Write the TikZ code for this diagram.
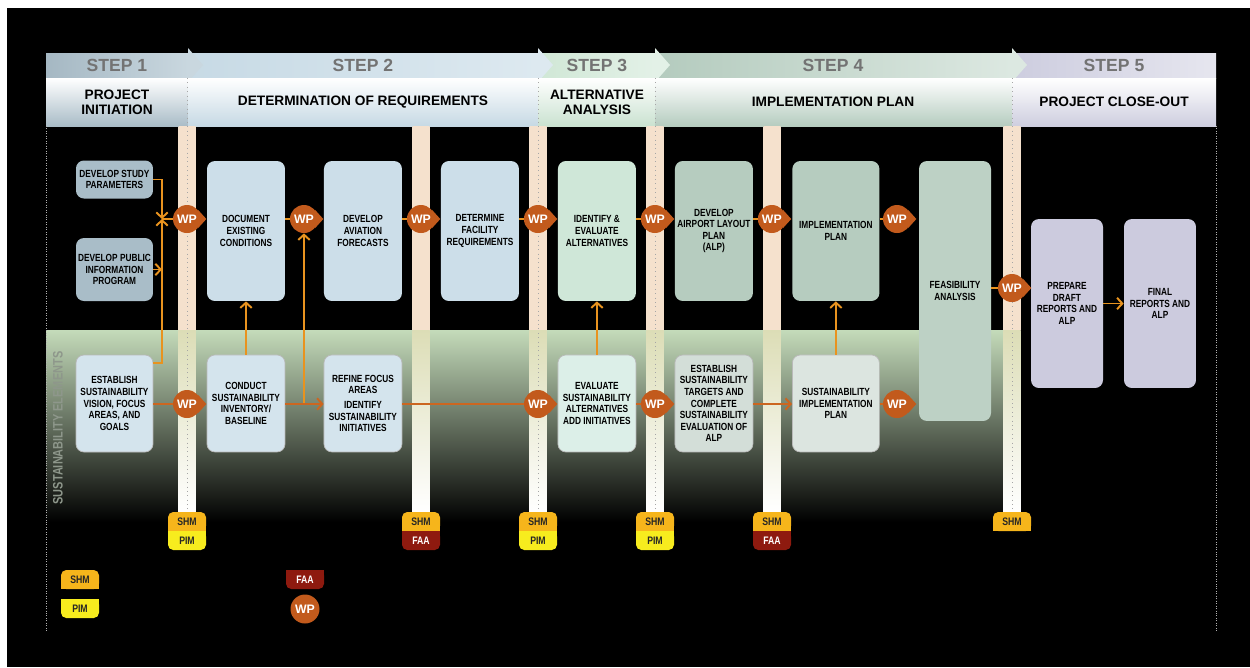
\documentclass[tikz,border=0pt]{standalone}
\usepackage{fontspec}
\setmainfont{Liberation Sans}
\newfontfamily\narrowfont{Liberation Sans}[FakeStretch=0.8]
\usetikzlibrary{positioning, arrows.meta}

\definecolor{boxgray}{HTML}{A9BDC8}
\definecolor{boxblue}{HTML}{CCDEE9}
\definecolor{boxmint}{HTML}{CFE7D8}
\definecolor{boxsage}{HTML}{B6CCBF}
\definecolor{boxlav}{HTML}{CCCBDE}
\definecolor{lowblue}{HTML}{D4E4ED}
\definecolor{lowmint}{HTML}{DCEFE8}
\definecolor{lowsage}{HTML}{D3DED8}
\definecolor{wpc}{HTML}{C25A1C}
\definecolor{orng}{HTML}{E8931F}
\definecolor{rust}{HTML}{CC6620}
\definecolor{shmc}{HTML}{F6B51B}
\definecolor{pimc}{HTML}{F7EC1E}
\definecolor{faac}{HTML}{8E1A0F}
\definecolor{pilc}{HTML}{F5E1CD}
\definecolor{pilm}{HTML}{FFFFFF}
\definecolor{piltint}{HTML}{DCDDB6}
\definecolor{bandtop}{HTML}{C4DBBA}
\definecolor{bandmid}{HTML}{7A8B73}
\definecolor{steptxt}{HTML}{737373}
\definecolor{sidetxt}{HTML}{8E978B}
% step colours: a = left of the step row, b = right of it, t = foot of the title row
\definecolor{sa1}{HTML}{A5B8C3}\definecolor{sb1}{HTML}{C9D7DF}\definecolor{st1}{HTML}{A9BCC7}
\definecolor{sa2}{HTML}{C7DAE5}\definecolor{sb2}{HTML}{DDE9F0}\definecolor{st2}{HTML}{C6D9E4}
\definecolor{sa3}{HTML}{D0E7D6}\definecolor{sb3}{HTML}{E3F1E7}\definecolor{st3}{HTML}{CAE2D0}
\definecolor{sa4}{HTML}{B4CBBE}\definecolor{sb4}{HTML}{DCE8E1}\definecolor{st4}{HTML}{B5CCBF}
\definecolor{sa5}{HTML}{CDCDDF}\definecolor{sb5}{HTML}{E6E6EF}\definecolor{st5}{HTML}{CECEDF}

\tikzset{
>={Straight Barb[length=3pt,width=6.5pt]}, % open arrow heads
node distance=2.34cm, % centre to centre spacing of the task boxes
task/.style={rounded corners=4.5pt, align=center, inner sep=1pt, minimum width=1.56cm, font=\narrowfont\bfseries\fontsize{5.9}{6.6}\selectfont}, % every task box
tall/.style={minimum height=2.8cm}, % top row boxes
low/.style={minimum height=1.94cm, draw=gray!55, line width=0.4pt}, % sustainability boxes
wp/.style={circle, fill=wpc, text=white, inner sep=0pt, minimum size=0.56cm, font=\bfseries\fontsize{7}{7}\selectfont}, % work paper
link/.style={orng, line width=1.1pt}, % main flow
slink/.style={rust, line width=1.1pt}, % sustainability flow
badge/.style={inner sep=0pt, text=black!85, font=\narrowfont\bfseries\fontsize{6.2}{6.2}\selectfont}, % SHM, PIM, FAA
steplbl/.style={text=steptxt, font=\bfseries\fontsize{10}{10}\selectfont},
phase/.style={align=center, font=\bfseries\fontsize{7.8}{8.6}\selectfont},
}

\begin{document}
\begin{tikzpicture}[x=0.02cm, y=-0.02cm]
\useasboundingbox (0,0) rectangle (1250,667);
\fill[white] (0,0) rectangle (1250,667);
\fill[black] (7,8) rectangle (1250,667);

% header
\foreach \xl/\xr/\i in {46/188/1, 188/538/2, 538/655/3, 655/1012/4, 1012/1216/5}
  \shade[left color=sa\i, right color=sb\i] (\xl,53) rectangle (\xr,78);
\foreach \xr/\i in {188/1, 538/2, 655/3, 1012/4}
  \fill[sb\i] (\xr,48) -- ({\xr+15},65) -- (\xr,82) -- cycle;
\foreach \xl/\xr/\i in {46/188/1, 188/538/2, 538/655/3, 655/1012/4, 1012/1216/5}
  \shade[top color=white, middle color=white!65!st\i, bottom color=st\i] (\xl,78) rectangle (\xr,126);

\node[steplbl] (s1) at (117,65) {STEP 1};
\node[steplbl] (s2) at (363,65) {STEP 2};
\node[steplbl] (s3) at (597,65) {STEP 3};
\node[steplbl] (s4) at (833,65) {STEP 4};
\node[steplbl] (s5) at (1114,65) {STEP 5};
\node[phase] (p1) at (117,102) {PROJECT\\INITIATION};
\node[phase] (p2) at (363,102) {DETERMINATION OF REQUIREMENTS};
\node[phase] (p3) at (597,102) {ALTERNATIVE\\ANALYSIS};
\node[phase] (p4) at (833,102) {IMPLEMENTATION PLAN};
\node[phase] (p5) at (1114,102) {PROJECT CLOSE-OUT};

% sustainability band
\shade[top color=bandtop, middle color=bandmid, bottom color=black] (46,330) rectangle (1004,522);
\node[rotate=90, text=sidetxt, font=\narrowfont\bfseries\fontsize{7.8}{7.8}\selectfont] (sust) at (58,428) {SUSTAINABILITY ELEMENTS};

% pillars
\foreach \px in {187,421,538,655,772,1012}{
  \shade[left color=pilc, middle color=pilm, right color=pilc] ({\px-8.5},126) rectangle ({\px+8.5},330);
  \shade[top color=piltint, bottom color=pilm] ({\px-8.5},330) rectangle ({\px+8.5},512);
}
\foreach \px in {187,538,655,1012}
  \draw[gray!70, dotted, line width=0.5pt] (\px,78) -- (\px,512);
\draw[gray!60, densely dotted] (46,126) -- (46,632);
\draw[gray!60, densely dotted] (1216,126) -- (1216,632);

% top row
\node[task, fill=boxgray, minimum width=1.54cm, minimum height=0.76cm] (dsp) at (114.5,179.5) {DEVELOP STUDY\\PARAMETERS};
\node[task, fill=boxgray, minimum width=1.54cm, minimum height=1.26cm] (dpip) at (114.5,269.5) {DEVELOP PUBLIC\\INFORMATION\\PROGRAM};
\node[task, tall, fill=boxblue] (doc) at (246,231) {DOCUMENT\\EXISTING\\CONDITIONS};
\node[task, tall, fill=boxblue, right of=doc] (avf) {DEVELOP\\AVIATION\\FORECASTS};
\node[task, tall, fill=boxblue, right of=avf] (dfr) {DETERMINE\\FACILITY\\REQUIREMENTS};
\node[task, tall, fill=boxmint, right of=dfr] (iea) {IDENTIFY \&\\EVALUATE\\ALTERNATIVES};
\node[task, tall, fill=boxsage, right of=iea] (alp) {DEVELOP\\AIRPORT LAYOUT\\PLAN\\(ALP)};
\node[task, tall, fill=boxsage, right of=alp, xshift=0.1cm, minimum width=1.74cm] (impl) {IMPLEMENTATION\\PLAN};
\node[task, fill=boxsage!90!white, minimum width=1.44cm, minimum height=5.2cm] (feas) at (955,291) {FEASIBILITY\\ANALYSIS};
\node[task, fill=boxlav, minimum width=1.44cm, minimum height=3.38cm] (draft) at (1067,303.5) {PREPARE\\DRAFT\\REPORTS AND\\ALP};
\node[task, fill=boxlav, minimum width=1.44cm, minimum height=3.38cm, right of=draft, node distance=1.86cm] (final) {FINAL\\REPORTS AND\\ALP};

% sustainability row
\node[task, low, fill=lowblue, minimum width=1.54cm] (esv) at (114.5,403.5) {ESTABLISH\\SUSTAINABILITY\\VISION, FOCUS\\AREAS, AND\\GOALS};
\node[task, low, fill=lowblue, below of=doc, node distance=3.45cm] (cond) {CONDUCT\\SUSTAINABILITY\\INVENTORY/\\BASELINE};
\node[task, low, fill=lowblue, below of=avf, node distance=3.45cm] (refine) {REFINE FOCUS\\AREAS\\[2pt]IDENTIFY\\SUSTAINABILITY\\INITIATIVES};
\node[task, low, fill=lowmint, below of=iea, node distance=3.45cm] (evsa) {EVALUATE\\SUSTAINABILITY\\ALTERNATIVES\\ADD INITIATIVES};
\node[task, low, fill=lowsage, below of=alp, node distance=3.45cm] (est) {ESTABLISH\\SUSTAINABILITY\\TARGETS AND\\COMPLETE\\SUSTAINABILITY\\EVALUATION OF\\ALP};
\node[task, low, fill=lowsage!80!white, below of=impl, node distance=3.45cm, minimum width=1.74cm] (simp) {SUSTAINABILITY\\IMPLEMENTATION\\PLAN};

% work papers
\node[wp] (wa) at (187,219) {WP};
\node[wp, right of=wa] (wb) {WP};
\node[wp, right of=wb] (wc) {WP};
\node[wp, right of=wc] (wd) {WP};
\node[wp, right of=wd] (we) {WP};
\node[wp, right of=we] (wf) {WP};
\node[wp] (wg) at (897,219) {WP};
\node[wp] (wh) at (1012,288) {WP};
\node[wp] (wi) at (187,404) {WP};
\node[wp] (wj) at (538,404) {WP};
\node[wp] (wk) at (655,404) {WP};
\node[wp] (wl) at (897,404) {WP};
\foreach \w in {wa,wb,wc,wd,we,wf,wg,wh,wi,wj,wk,wl}
  \fill[wpc] (\w.40) -- ([xshift=0.1cm]\w.east) -- (\w.-40) -- cycle;

% flows
\coordinate (j1) at (162,219);
\draw[link, ->] (dsp.east) -| (j1);
\draw[link, ->] ([yshift=-0.16cm]esv.north east) -| (j1);
\draw[link, ->] (dpip.east) -- (dpip.east -| j1);
\draw[link] (j1) -- (wa);
\draw[link] (doc.east |- wb) -- (wb);
\draw[link] (avf.east |- wc) -- (wc);
\draw[link] (dfr.east |- wd) -- (wd);
\draw[link] (iea.east |- we) -- (we);
\draw[link] (alp.east |- wf) -- (wf);
\draw[link] (impl.east |- wg) -- (wg);
\draw[link] (feas.east |- wh) -- (wh);
\draw[link, ->] (draft) -- (final);
\draw[link, ->] (cond) -- (doc);
\draw[link, ->] (evsa) -- (iea);
\draw[link, ->] (simp) -- (impl);
\draw[link, ->] (wb |- wi) -- (wb);
\draw[slink] (esv.east |- wi) -- (wi);
\draw[slink, ->] (cond.east |- wi) -- (refine.west |- wi);
\draw[slink] (refine.east |- wj) -- (wj);
\draw[slink] (evsa.east |- wk) -- (wk);
\draw[slink, ->] (est.east |- wk) -- (simp.west |- wk);
\draw[slink] (simp.east |- wl) -- (wl);

% reviewers under the pillars
\foreach \px/\lo/\loc/\lotc [count=\k] in {187/PIM/pimc/black!85, 421/FAA/faac/white, 538/PIM/pimc/black!85, 655/PIM/pimc/black!85, 772/FAA/faac/white}{
  \fill[shmc, rounded corners=3pt] ({\px-19},512) rectangle ({\px+19},531);
  \fill[shmc] ({\px-19},522) rectangle ({\px+19},531);
  \fill[\loc, rounded corners=3pt] ({\px-19},531) rectangle ({\px+19},550);
  \fill[\loc] ({\px-19},531) rectangle ({\px+19},540);
  \node[badge] (shm\k) at (\px,521.5) {SHM};
  \node[badge, text=\lotc] (low\k) at (\px,540.5) {\lo};
}
\fill[shmc, rounded corners=3pt] (993,512) rectangle (1031,531);
\fill[shmc] (993,522) rectangle (1031,531);
\node[badge] (shm6) at (1012,521.5) {SHM};

% legend
\fill[shmc, rounded corners=3pt] (61,570) rectangle (99,589);
\fill[shmc] (61,580) rectangle (99,589);
\node[badge] (lshm) at (80,579.5) {SHM};
\fill[pimc, rounded corners=3pt] (61,599) rectangle (99,618);
\fill[pimc] (61,599) rectangle (99,608);
\node[badge] (lpim) at (80,608.5) {PIM};
\fill[faac, rounded corners=3pt] (286,570) rectangle (324,589);
\fill[faac] (286,570) rectangle (324,579);
\node[badge, text=white] (lfaa) at (305,579.5) {FAA};
\node[wp, minimum size=0.58cm] (lwp) at (305,609) {WP};
\end{tikzpicture}
\end{document}
